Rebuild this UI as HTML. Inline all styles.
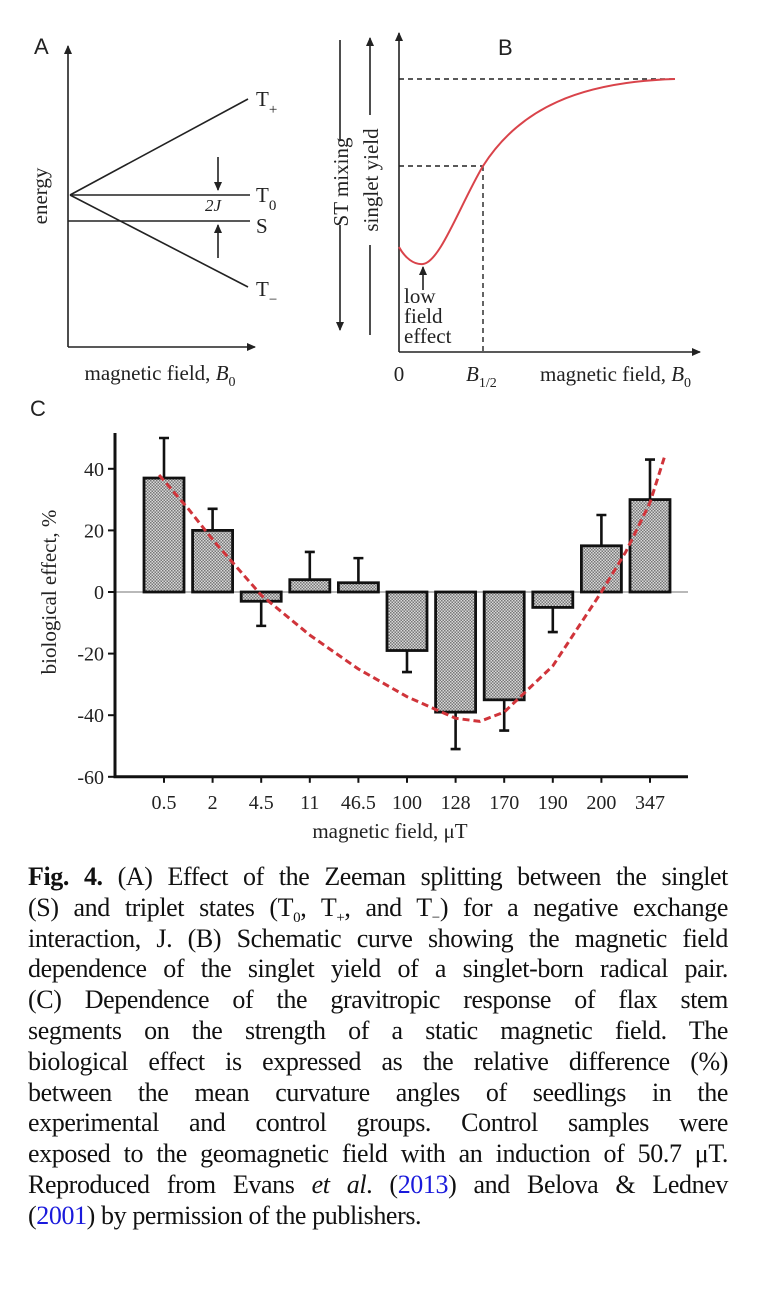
<!DOCTYPE html>
<html><head><meta charset="utf-8">
<style>
body{margin:0;width:760px;height:1290px;background:#fff;overflow:hidden;font-family:"Liberation Serif",serif;}
svg{position:absolute;left:0;top:0;}
#cap{position:absolute;left:28px;top:862px;width:700px;font-size:26px;letter-spacing:-0.4px;color:#111;}
.ln{height:30.8px;line-height:30.8px;text-align:justify;text-align-last:justify;white-space:nowrap;}
.ln.last{text-align-last:left;}
a{color:#1a1adc;text-decoration:none;}
</style></head><body>
<svg width="760" height="860" font-family="Liberation Serif, serif">
<defs>
<marker id="ah" markerWidth="10" markerHeight="10" refX="8" refY="5" orient="auto" markerUnits="userSpaceOnUse"><path d="M0,1 L9,5 L0,9 Z" fill="#222"/></marker>
<pattern id="hatch" width="3" height="3" patternUnits="userSpaceOnUse"><rect width="3" height="3" fill="#d8d8d8"/><rect width="1.5" height="1.5" fill="#777"/><rect x="1.5" y="1.5" width="1.5" height="1.5" fill="#777"/></pattern>
</defs>
<!-- Panel A -->
<g stroke="#222" stroke-width="1.6" fill="none">
<line x1="68" y1="347" x2="68" y2="46" marker-end="url(#ah)"/>
<line x1="68" y1="347" x2="255" y2="347" marker-end="url(#ah)"/>
<line x1="70" y1="195" x2="248" y2="99"/>
<line x1="70" y1="195" x2="250" y2="195"/>
<line x1="68" y1="221" x2="250" y2="221"/>
<line x1="70" y1="195" x2="248" y2="287"/>
<line x1="218" y1="157" x2="218" y2="190" marker-end="url(#ah)"/>
<line x1="218" y1="258" x2="218" y2="225" marker-end="url(#ah)"/>
</g>
<g fill="#222" font-size="21">
<text x="34" y="54" font-family="Liberation Sans, sans-serif" font-size="22">A</text>
<text x="256" y="106">T<tspan font-size="15" dy="8">+</tspan></text>
<text x="256" y="202">T<tspan font-size="15" dy="8">0</tspan></text>
<text x="256" y="233">S</text>
<text x="256" y="296">T<tspan font-size="15" dy="8">−</tspan></text>
<text x="205" y="211" font-size="17" font-style="italic">2J</text>
<text transform="translate(47,196) rotate(-90)" text-anchor="middle">energy</text>
<text x="160" y="380" text-anchor="middle">magnetic field, <tspan font-style="italic">B</tspan><tspan font-size="14" dy="6">0</tspan></text>
</g>
<!-- Panel B -->
<g stroke="#222" stroke-width="1.6" fill="none">
<line x1="340" y1="40" x2="340" y2="140"/>
<line x1="340" y1="225" x2="340" y2="330" marker-end="url(#ah)"/>
<line x1="370" y1="335" x2="370" y2="245"/>
<line x1="370" y1="115" x2="370" y2="38" marker-end="url(#ah)"/>
<line x1="399" y1="352" x2="399" y2="33" marker-end="url(#ah)"/>
<line x1="399" y1="352" x2="700" y2="352" marker-end="url(#ah)"/>
<g stroke-dasharray="5,4" stroke-width="1.4">
<line x1="399" y1="79" x2="675" y2="79"/>
<line x1="399" y1="166" x2="483" y2="166"/>
<line x1="483" y1="166" x2="483" y2="352"/>
</g>
<path d="M399,247 C405,258 414,265 423,264 C440,262 460,205 483,166 C520,108 580,82 675,79" stroke="#d9434a" stroke-width="2"/>
<line x1="423" y1="290" x2="423" y2="267" marker-end="url(#ah)"/>
</g>
<g fill="#222" font-size="21">
<text x="498" y="55" font-family="Liberation Sans, sans-serif" font-size="22">B</text>
<text transform="translate(348,182) rotate(-90)" text-anchor="middle">ST mixing</text>
<text transform="translate(378,180) rotate(-90)" text-anchor="middle">singlet yield</text>
<text x="404" y="303">low</text>
<text x="404" y="323">field</text>
<text x="404" y="343">effect</text>
<text x="399" y="381" text-anchor="middle">0</text>
<text x="466" y="381"><tspan font-style="italic">B</tspan><tspan font-size="14" dy="6">1/2</tspan></text>
<text x="540" y="381">magnetic field, <tspan font-style="italic">B</tspan><tspan font-size="14" dy="6">0</tspan></text>
</g>
<text x="30" y="416" font-family="Liberation Sans, sans-serif" font-size="22" fill="#222">C</text>
<g id="chartC"></g>
</svg>

<div id="cap">
<div class="ln"><b>Fig. 4.</b> (A) Effect of the Zeeman splitting between the singlet</div>
<div class="ln">(S) and triplet states (T<sub style="font-size:15px">0</sub>, T<sub style="font-size:15px">+</sub>, and T<sub style="font-size:15px">−</sub>) for a negative exchange</div>
<div class="ln">interaction, J. (B) Schematic curve showing the magnetic field</div>
<div class="ln">dependence of the singlet yield of a singlet-born radical pair.</div>
<div class="ln">(C) Dependence of the gravitropic response of flax stem</div>
<div class="ln">segments on the strength of a static magnetic field. The</div>
<div class="ln">biological effect is expressed as the relative difference (%)</div>
<div class="ln">between the mean curvature angles of seedlings in the</div>
<div class="ln">experimental and control groups. Control samples were</div>
<div class="ln">exposed to the geomagnetic field with an induction of 50.7 μT.</div>
<div class="ln">Reproduced from Evans <i>et al</i>. (<a>2013</a>) and Belova &amp; Lednev</div>
<div class="ln last">(<a>2001</a>) by permission of the publishers.</div>
</div>

<script>
const categories = ["0.5","2","4.5","11","46.5","100","128","170","190","200","347"];
const values = [37, 20, -3, 4, 3, -19, -39, -35, -5, 15, 30];
const errEnds = [50, 27, -11, 13, 11, -26, -51, -45, -13, 25, 43];
const yTicks = [40, 20, 0, -20, -40, -60];
const curveIdx = [-0.1, 0.5, 1, 1.5, 2, 3, 4, 5, 6, 6.5, 7, 8, 9, 9.5, 10, 10.3];
const curveVal = [38, 27, 17, 8, -1, -14, -25, -34, -41, -42, -39, -24, 0, 13, 29, 44];

const NS = "http://www.w3.org/2000/svg";
const g = document.getElementById("chartC");
const X0 = 164, DX = 48.6, ZERO = 592, PPU = 3.08;
const xOf = i => X0 + i * DX;
const yOf = v => ZERO - v * PPU;
function mk(tag, attrs, parent) {
  const e = document.createElementNS(NS, tag);
  for (const k in attrs) e.setAttribute(k, attrs[k]);
  (parent || g).appendChild(e);
  return e;
}
const zl = mk("line", {x1: 115, x2: 688, y1: yOf(0), y2: yOf(0), stroke: "#444", "stroke-width": 0.8});


values.forEach((v, i) => {
  const cx = xOf(i);
  const eb = mk("path", {d: `M${cx},${yOf(v)} L${cx},${yOf(errEnds[i])} M${cx-5},${yOf(errEnds[i])} L${cx+5},${yOf(errEnds[i])}`, stroke: "#111", "stroke-width": 2.6, fill: "none"});
  
  
  const top = Math.min(yOf(v), yOf(0)), h = Math.abs(yOf(v) - yOf(0));
  const r = mk("rect", {x: cx - 20, y: top, width: 40, height: h, fill: "url(#hatch)", stroke: "#111", "stroke-width": 2.8});
  
  
  const tk = mk("line", {x1: cx, x2: cx, y1: yOf(-60), y2: yOf(-60) + 6, stroke: "#111", "stroke-width": 2});
  
  
  const t = mk("text", {x: cx, y: 809, "text-anchor": "middle", "font-size": 20, fill: "#222"});
  t.textContent = categories[i];
  
  
});
const pts = curveIdx.map((c, k) => xOf(c).toFixed(1) + "," + yOf(curveVal[k]).toFixed(1)).join(" ");
const cv = mk("polyline", {points: pts, fill: "none", stroke: "#d0343a", "stroke-width": 3, "stroke-dasharray": "7,4", "stroke-linejoin": "round"});


const ya = mk("line", {x1: 115, x2: 115, y1: 433, y2: yOf(-60) + 1, stroke: "#111", "stroke-width": 3});


const xa = mk("line", {x1: 113.5, x2: 688, y1: yOf(-60), y2: yOf(-60), stroke: "#111", "stroke-width": 3});


yTicks.forEach(v => {
  const tk = mk("line", {x1: 108, x2: 115, y1: yOf(v), y2: yOf(v), stroke: "#111", "stroke-width": 2});
  
  
  const t = mk("text", {x: 104, y: yOf(v) + 7, "text-anchor": "end", "font-size": 20, fill: "#222"});
  t.textContent = v;
  
  
});
const yt = mk("text", {transform: "translate(56,592) rotate(-90)", "text-anchor": "middle", "font-size": 21, fill: "#222"});
yt.textContent = "biological effect, %";


const xt = mk("text", {x: 390, y: 838, "text-anchor": "middle", "font-size": 21, fill: "#222"});
xt.textContent = "magnetic field, μT";


</script>
</body></html>
